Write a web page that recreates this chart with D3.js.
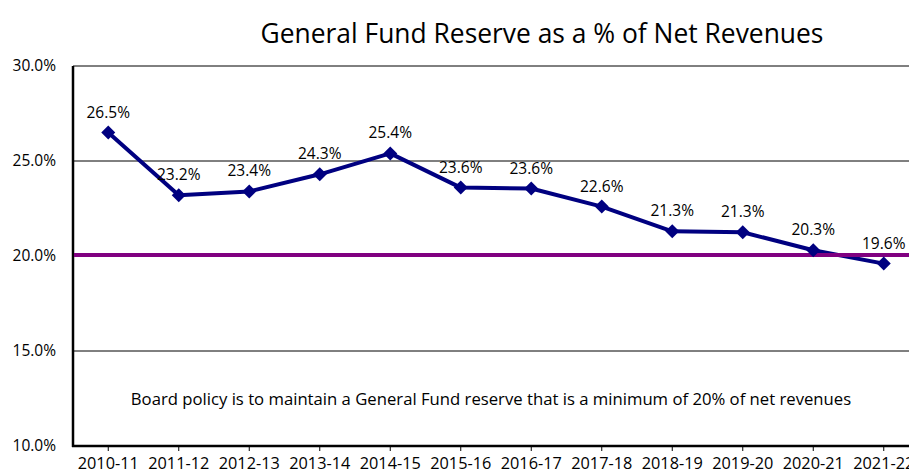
<!DOCTYPE html>
<html>
<head>
<meta charset="utf-8">
<script src="https://cdn.jsdelivr.net/npm/d3@7"></script>
<style>
  html, body { margin: 0; padding: 0; background: #fff; }
  svg { display: block; font-family: "Open Sans", sans-serif; }
</style>
</head>
<body>
<div id="chart"></div>
<script>
// datos
const years = ['2010-11', '2011-12', '2012-13', '2013-14', '2014-15', '2015-16',
    '2016-17', '2017-18', '2018-19', '2019-20', '2020-21', '2021-22'];
const reservePct = [26.5, 23.2, 23.4, 24.3, 25.4, 23.6, 23.55, 22.6, 21.3, 21.25, 20.3, 19.6];
const pctLabels = ['26.5%', '23.2%', '23.4%', '24.3%', '25.4%', '23.6%', '23.6%', '22.6%', '21.3%', '21.3%', '20.3%', '19.6%'];
const yTicks = [10, 15, 20, 25, 30];
const policyLevel = 20.05;
const chartTitle = 'General Fund Reserve as a % of Net Revenues';
const policyNote = 'Board policy is to maintain a General Fund reserve that is a minimum of 20% of net revenues';

const width = 909;
const height = 475;
const margin = { top: 66, right: -10, bottom: 29, left: 73 };
const font = '"Open Sans", sans-serif';

const svg = d3.select('#chart').append('svg')
    .attr('width', width)
    .attr('height', height);

const x = d3.scaleBand()
    .domain(years)
    .range([margin.left, width - margin.right]);
const y = d3.scaleLinear()
    .domain([10, 30])
    .range([height - margin.bottom, margin.top]);

// título
svg.append('text')
    .attr('x', 542)
    .attr('y', 43)
    .attr('text-anchor', 'middle')
    .attr('font-size', '26.4px')
    .attr('fill', '#000')
    .text(chartTitle);

// rejilla horizontal
svg.append('g').selectAll('line').data(yTicks.filter((t) => t > 10)).enter().append('line')
    .attr('x1', margin.left)
    .attr('x2', width)
    .attr('y1', (d) => y(d))
    .attr('y2', (d) => y(d))
    .attr('stroke', '#000')
    .attr('stroke-width', 1);

// eje Y
const yAxis = svg.append('g')
    .attr('transform', `translate(${margin.left},0)`)
    .call(d3.axisLeft(y).tickValues(yTicks).tickFormat((d) => d.toFixed(1) + '%').tickSize(0).tickPadding(17));
yAxis.select('.domain').remove();
yAxis.selectAll('text').attr('font-size', '15.5px').attr('fill', '#000').attr('font-family', font);
svg.append('line')
    .attr('x1', margin.left).attr('x2', margin.left)
    .attr('y1', y(30)).attr('y2', y(10) + 1)
    .attr('stroke', '#000').attr('stroke-width', 2.5);

// eje X
const xAxis = svg.append('g')
    .attr('transform', `translate(0,${y(10)})`)
    .call(d3.axisBottom(x).tickSize(5).tickPadding(6));
xAxis.select('.domain').remove();
xAxis.selectAll('line').attr('stroke', '#000').attr('stroke-width', 1);
xAxis.selectAll('text').attr('font-size', '16.3px').attr('fill', '#000').attr('font-family', font);
svg.append('line')
    .attr('x1', margin.left - 1).attr('x2', width)
    .attr('y1', y(10)).attr('y2', y(10))
    .attr('stroke', '#000').attr('stroke-width', 2.5);

// nota de política
svg.append('text')
    .attr('x', 491)
    .attr('y', 405)
    .attr('text-anchor', 'middle')
    .attr('font-size', '16.7px')
    .attr('fill', '#000')
    .text(policyNote);

const cx = (d, i) => x(years[i]) + x.bandwidth() / 2;

// serie
const line = d3.line()
    .x((d, i) => cx(d, i))
    .y((d) => y(d));
svg.append('path')
    .datum(reservePct)
    .attr('fill', 'none')
    .attr('stroke', '#000080')
    .attr('stroke-width', 4)
    .attr('stroke-linejoin', 'round')
    .attr('d', line);

// línea de política (20%)
svg.append('line')
    .attr('x1', margin.left + 1)
    .attr('x2', width)
    .attr('y1', y(policyLevel))
    .attr('y2', y(policyLevel))
    .attr('stroke', '#800080')
    .attr('stroke-width', 4);

// marcadores
svg.append('g').selectAll('path').data(reservePct).enter().append('path')
    .attr('transform', (d, i) => `translate(${cx(d, i)},${y(d)})`)
    .attr('d', 'M0,-7L7,0L0,7L-7,0Z')
    .attr('fill', '#000080');

// etiquetas
svg.append('g').selectAll('text').data(reservePct).enter().append('text')
    .attr('x', (d, i) => cx(d, i))
    .attr('y', (d) => y(d) - 15)
    .attr('text-anchor', 'middle')
    .attr('font-size', '15.5px')
    .attr('fill', '#000')
    .text((d, i) => pctLabels[i]);
</script>
</body>
</html>
